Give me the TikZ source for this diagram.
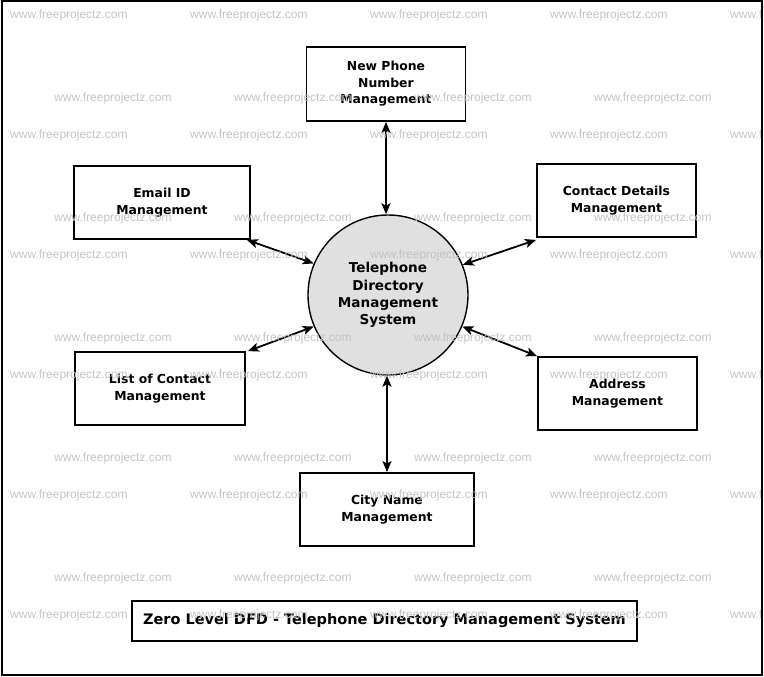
\documentclass[tikz,border=0pt]{standalone}
\usepackage{fontspec}
\setmainfont{DejaVu Sans}
\newfontfamily\wmfont{Liberation Sans}
\usetikzlibrary{arrows.meta}
\definecolor{sysfill}{RGB}{224,224,224}
\definecolor{wmgray}{RGB}{195,195,195}
\tikzset{
	proc/.style={draw,line width=1.8pt,align=center,font=\bfseries\fontsize{12.4}{16.5}\selectfont,inner sep=0},
	link/.style={line width=1.8pt,{Stealth[length=11pt,width=9pt,inset=2.5pt]}-{Stealth[length=11pt,width=9pt,inset=2.5pt]}},
	wm/.style={anchor=west,inner sep=0,text=wmgray,font=\wmfont\fontsize{12}{14}\selectfont},
}

\begin{document}
\begin{tikzpicture}[x=1pt,y=-1pt]
	\useasboundingbox (0,0) rectangle (764,677);
	\node[draw,circle,fill=sysfill,line width=1.4pt,minimum size=160pt,align=center,font=\bfseries\fontsize{13.6}{17.3}\selectfont,inner sep=0] (sys) at (388,295) {Telephone\\Directory\\Management\\System};
	\node[proc,minimum width=159pt,minimum height=74pt] (phone) at (386,84) {New Phone\\Number\\Management};
	\node[proc,minimum width=176pt,minimum height=73pt] (email) at (162,202.5) {Email ID\\Management};
	\node[proc,minimum width=159pt,minimum height=73pt] (contact) at (616.5,200.5) {Contact Details\\Management};
	\node[proc,minimum width=170pt,minimum height=73pt] (list) at (160,388.5) {List of Contact\\Management};
	\node[proc,minimum width=159pt,minimum height=73pt] (addr) at (617.5,393.5) {Address\\Management};
	\node[proc,minimum width=174pt,minimum height=73pt] (city) at (387,509.5) {City Name\\Management};
	\node[proc,minimum width=505pt,minimum height=40pt,font=\bfseries\fontsize{14.5}{17}\selectfont] (title) at (384.5,621) {Zero Level DFD - Telephone Directory Management System};
	\draw[link] (phone.south) -- (phone.south |- sys.north);
	\draw[link] ([xshift=-4pt]email.south east) -- (sys.157);
	\draw[link] ([yshift=-2pt]contact.south west) -- (sys.22);
	\draw[link] ([xshift=2pt]list.north east) -- (sys.203);
	\draw[link] (addr.north west) -- (sys.337);
	\draw[link] (city.north) -- (city.north |- sys.south);
	% watermark
	\begin{scope}
		\clip (1.5,1.5) rectangle (761.5,674.5);
		\foreach \y in {15,135,255,375,495,615}
			\foreach \x in {10,190,370,550,730}
				\node[wm] (wa-\x-\y) at (\x,\y) {www.freeprojectz.com};
		\foreach \y in {98,218,338,458,578}
			\foreach \x in {54,234,414,594}
				\node[wm] (wb-\x-\y) at (\x,\y) {www.freeprojectz.com};
	\end{scope}
	\draw[line width=2pt] (1.5,1.5) rectangle (761.5,674.5);
\end{tikzpicture}
\end{document}
